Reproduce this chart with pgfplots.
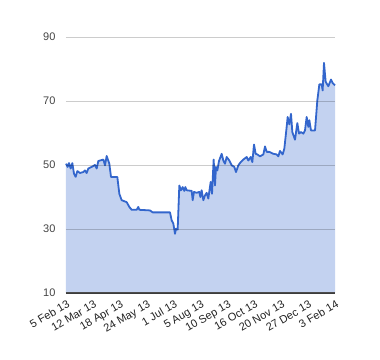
\documentclass[border=0pt]{standalone}
\usepackage{pgfplots}
\usepackage{pgfplotstable}
\pgfplotsset{compat=1.18}
\usepackage{fontspec}
\setmainfont{Liberation Sans}
\definecolor{lineblue}{HTML}{3366CC}
\definecolor{fillblue}{HTML}{C3D2F0}
\definecolor{txt}{HTML}{444444}
\definecolor{txtx}{HTML}{222222}
\pgfplotstableread{
x y
0 50.4
0.062 49.4
0.112 50.6
0.173 48.9
0.235 50.6
0.297 47.3
0.359 46.3
0.421 48.1
0.520 47.5
0.644 47.8
0.706 48.3
0.768 47.5
0.830 48.9
0.954 49.4
1.078 50.0
1.140 48.9
1.202 51.25
1.388 51.7
1.450 49.9
1.512 52.8
1.611 50.4
1.673 46.25
1.908 46.25
1.983 41.0
2.069 39.0
2.255 38.4
2.354 36.9
2.441 36.0
2.627 36.0
2.689 36.9
2.726 36.0
3.123 35.8
3.222 35.2
3.866 35.2
3.928 32.7
3.990 31.7
4.052 28.5
4.089 30.1
4.151 29.8
4.213 43.6
4.275 42.1
4.337 43.1
4.399 41.9
4.436 43.1
4.486 42.1
4.672 41.9
4.709 39.0
4.758 41.6
4.857 41.3
4.957 41.6
4.994 40.0
5.043 42.1
5.105 39.0
5.167 40.5
5.229 41.3
5.291 39.5
5.378 44.7
5.428 41.0
5.489 51.7
5.539 43.6
5.576 49.4
5.626 48.3
5.688 51.25
5.787 53.5
5.849 51.4
5.911 50.4
5.973 52.5
6.072 51.4
6.159 49.9
6.258 49.4
6.320 47.8
6.407 49.9
6.493 50.9
6.592 51.7
6.716 52.5
6.778 51.4
6.865 52.5
6.927 50.9
6.989 56.4
7.051 53.5
7.113 53.3
7.212 52.7
7.336 53.3
7.398 55.8
7.460 54.1
7.559 54.1
7.708 53.5
7.831 53.3
7.893 52.7
7.955 54.4
8.054 53.3
8.116 55.1
8.203 61.9
8.240 65.0
8.302 62.7
8.364 66.0
8.414 60.3
8.513 57.9
8.600 63.1
8.662 59.8
8.736 60.3
8.823 59.8
8.885 60.8
8.947 65.0
9.009 61.9
9.046 64.0
9.108 60.8
9.257 60.8
9.343 70.2
9.418 75.2
9.504 75.2
9.541 73.3
9.591 81.9
9.653 76.0
9.752 74.6
9.851 76.7
9.913 75.6
10 74.9
}\datatable
\begin{document}
\begin{tikzpicture}
\begin{axis}[
  scale only axis,
  width=269pt, height=256pt,
  xmin=0, xmax=10, ymin=10, ymax=90,
  ytick={10,30,50,70,90},
  /pgf/number format/assume math mode=true,
  xtick={0,1,2,3,4,5,6,7,8,9,10},
  xticklabels={5 Feb 13,12 Mar 13,18 Apr 13,24 May 13,1 Jul 13,5 Aug 13,10 Sep 13,16 Oct 13,20 Nov 13,27 Dec 13,3 Feb 14},
  x tick label style={rotate=30, anchor=north east, font=\fontsize{11}{13}\selectfont, text=txtx, yshift=-5pt, xshift=-2pt, inner sep=1pt},
  y tick label style={font=\fontsize{11}{13}\selectfont, text=txt, xshift=-7pt},
  major tick length=0pt,
  ymajorgrids,
  axis on top,
  grid style={black, opacity=0.2, line width=0.9pt},
  axis line style={draw=none},
  clip=false,
]
\addplot[fill=fillblue, draw=none] table[x=x,y=y]{\datatable} \closedcycle;
\addplot[lineblue, line width=1.8pt, line join=round] table[x=x,y=y]{\datatable};
\draw[color=black!70, line width=1.4pt] (axis cs:0,10) -- (axis cs:10,10);
\end{axis}
\path[use as bounding box] ([shift={(-66pt,-67pt)}]current axis.south west) rectangle ([shift={(45pt,37pt)}]current axis.north east);
\end{tikzpicture}
\end{document}
